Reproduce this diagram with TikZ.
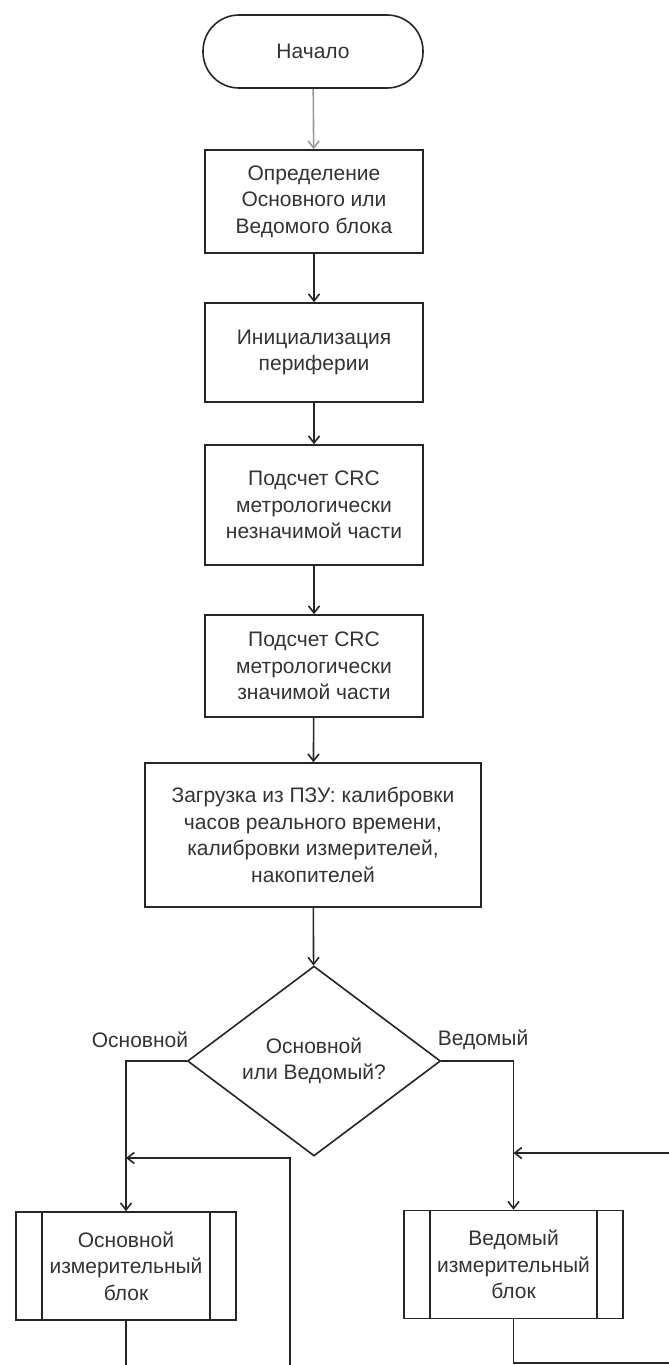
\documentclass[tikz,border=0pt]{standalone}
\usepackage{fontspec}
\setmainfont{Liberation Sans}
\usetikzlibrary{arrows.meta,shapes.geometric}
\begin{document}
\begin{tikzpicture}[x=1pt,y=-1pt,
  every node/.style={font=\fontsize{21}{26.5}\selectfont, text=black!80},
  line/.style={draw=black!85, line width=1.6pt},
  arr/.style={line, -{Straight Barb[length=7pt,width=11pt]}},
  box/.style={line, rectangle, minimum width=218pt, align=center, inner sep=0pt},
  term/.style={line, rectangle, rounded corners=36pt, minimum width=220pt, minimum height=73pt},
  dec/.style={line, diamond, minimum width=253pt, minimum height=146pt, inner sep=0pt, align=center},
  sub/.style={line, rectangle, minimum width=220pt, minimum height=108pt, align=center, inner sep=0pt,
    path picture={\draw[line width=1.6pt, draw=black!85]
      ([xshift=26pt]path picture bounding box.north west) -- ([xshift=26pt]path picture bounding box.south west)
      ([xshift=-26pt]path picture bounding box.north east) -- ([xshift=-26pt]path picture bounding box.south east);}}
]
\useasboundingbox[fill=white] (0,0) rectangle (669,1365);

\node[term] (start) at (313,51.5) {Начало};
\node[box, minimum height=103pt] (b1) at (314,201.5) {Определение\\Основного или\\Ведомого блока};
\node[box, minimum height=99pt] (b2) at (314,352.5) {Инициализация\\периферии};
\node[box, minimum height=120pt] (b3) at (314,505) {Подсчет CRC\\метрологически\\незначимой части};
\node[box, minimum height=102pt] (b4) at (314,666) {Подсчет CRC\\метрологически\\значимой части};
\node[box, minimum width=336pt, minimum height=144pt] (b5) at (313,835) {Загрузка из ПЗУ: калибровки\\часов реального времени,\\калибровки измерителей,\\накопителей};
\node[dec] (d) at (314,1061) {Основной\\или Ведомый?};
\node (lm) at (140,1040) {Основной};
\node (ls) at (483,1040) {Ведомый};
\node[sub] (m) at (126,1266) {Основной\\измерительный\\блок};
\node[sub, minimum width=219pt] (s) at (513.5,1264.5) {Ведомый\\измерительный\\блок};

\coordinate (lb) at (126,1365);
\coordinate (lr) at (290,1365);
\coordinate (lj) at (126,1158);
\coordinate (rb) at (513.5,1363);
\coordinate (re) at (669,1363);
\coordinate (rt) at (669,1153);
\coordinate (rj) at (513.5,1153);

\draw[arr, draw=black!40] (start) -- (b1);
\draw[arr] (b1) -- (b2);
\draw[arr] (b2) -- (b3);
\draw[arr] (b3) -- (b4);
\draw[arr] (b4) -- (b5);
\draw[arr] (b5) -- (d);
\draw[arr] (d.west) -| (m.north);
\draw[arr] (d.east) -| (s.north);
\draw[line] (m.south) -- (lb);
\draw[arr] (lr) |- (lj);
\draw[line] (s.south) -- (rb) -- (re);
\draw[arr] (rt) -- (rj);
\end{tikzpicture}
\end{document}
